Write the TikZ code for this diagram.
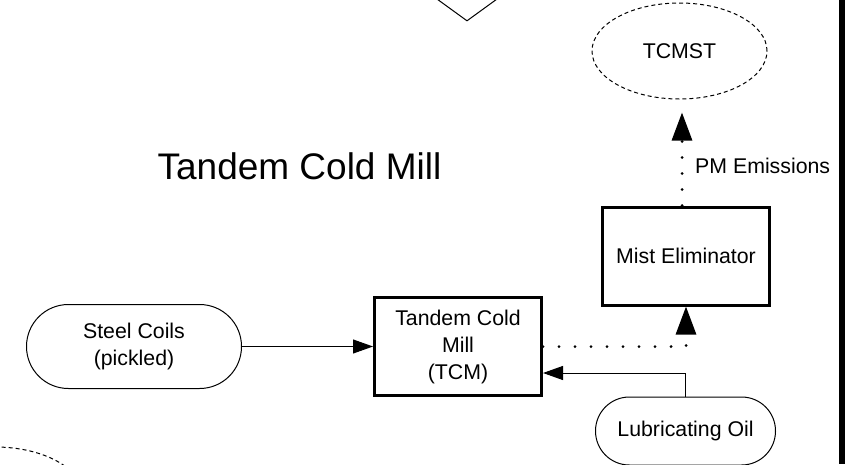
\documentclass[tikz,border=0pt]{standalone}
\usepackage{fontspec}
\setmainfont{Liberation Sans}
\usetikzlibrary{arrows.meta,shapes.geometric}
\begin{document}
\begin{tikzpicture}[x=1pt,y=-1pt,
  txt/.style={font=\fontsize{21.3}{27}\selectfont, align=center, inner sep=0pt},
  procbox/.style={txt, draw, line width=3pt, minimum width=167pt, minimum height=98pt},
  terminal/.style={txt, draw, line width=1pt, rounded corners=#1},
  offpage/.style={txt, draw, ellipse, line width=1pt, dash pattern=on 4pt off 3pt, minimum width=175pt, minimum height=96pt},
  solidarrow/.style={line width=1pt, -{Triangle[length=20pt,width=14pt]}},
  dotarrow/.style={line width=3pt, line cap=round, dash pattern=on 0pt off 16pt, -{Triangle[length=28pt,width=20pt]}},
  ]
\useasboundingbox (0,0) rectangle (852,464);
\clip (0,0) rectangle (852,464);

% partial decision diamond at top
\node[draw, diamond, aspect=1.38, minimum width=168pt, minimum height=122pt, line width=1pt, inner sep=0pt] (dec) at (467,-40) {};

% title
\node[font=\fontsize{37}{44}\selectfont, inner sep=0pt, anchor=base] (title) at (299.5,179.3) {Tandem Cold Mill};

% nodes
\node[offpage] (tcmst) at (679.5,51) {TCMST};
\node[offpage] (offbl) at (-5,495) {};
\node[procbox] (mist) at (686,256) {Mist Eliminator};
\node[procbox] (tcm) at (458,346.5) {Tandem Cold\\Mill\\(TCM)};
\node[terminal=41.9pt, minimum width=215pt, minimum height=84pt] (steel) at (134,346.5) {Steel Coils\\(pickled)};
\node[terminal=33.9pt, minimum width=180pt, minimum height=68pt] (lub) at (685.5,431) {Lubricating Oil};
\node[txt, anchor=west] (pm) at (695,166) {PM Emissions};

% connectors
\draw[solidarrow] (steel.east) -- (tcm.west);
\draw[solidarrow] (lub.north) |- ([yshift=-26.5pt]tcm.east);
\draw[dotarrow] (tcm.east) -| (mist.south);
\draw[dotarrow, shorten >=13pt] ([xshift=-4pt]mist.north) -- ([xshift=-4pt]mist.north |- tcmst.south);

% right frame border
\draw[line width=6pt] (841.7,0) -- (841.7,464);
\end{tikzpicture}
\end{document}
